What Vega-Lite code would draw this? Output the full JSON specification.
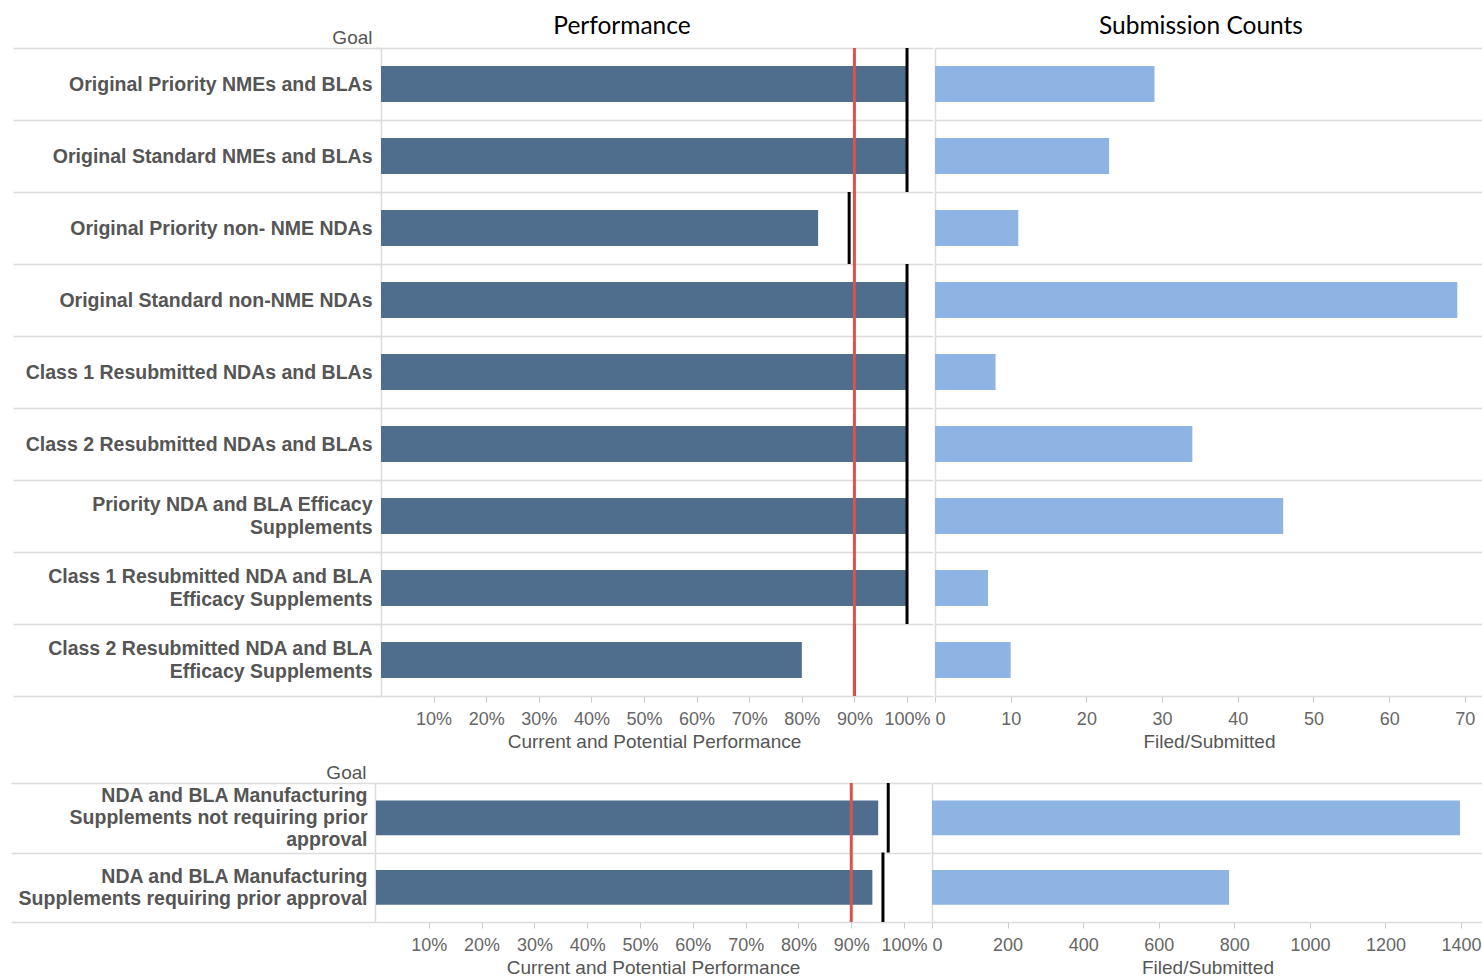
{
  "$schema": "https://vega.github.io/schema/vega-lite/v6.json",
  "padding": {"left": 10, "top": 13, "right": 0, "bottom": 0},
  "background": "white",
  "config": {
    "view": {"stroke": null},
    "font": "Liberation Sans",
    "axis": {"labelFont": "Liberation Sans", "titleFont": "Liberation Sans"}
  },
  "datasets": {
    "top": [
      {"goal": "Original Priority NMEs and BLAs", "perf": 1.0, "potential": 1.0, "count": 29},
      {"goal": "Original Standard NMEs and BLAs", "perf": 1.0, "potential": 1.0, "count": 23},
      {"goal": "Original Priority non- NME NDAs", "perf": 0.831, "potential": 0.89, "count": 11},
      {"goal": "Original Standard non-NME NDAs", "perf": 1.0, "potential": 1.0, "count": 69},
      {"goal": "Class 1 Resubmitted NDAs and BLAs", "perf": 1.0, "potential": 1.0, "count": 8},
      {"goal": "Class 2 Resubmitted NDAs and BLAs", "perf": 1.0, "potential": 1.0, "count": 34},
      {"goal": "Priority NDA and BLA Efficacy|Supplements", "perf": 1.0, "potential": 1.0, "count": 46},
      {"goal": "Class 1 Resubmitted NDA and BLA|Efficacy Supplements", "perf": 1.0, "potential": 1.0, "count": 7},
      {"goal": "Class 2 Resubmitted NDA and BLA|Efficacy Supplements", "perf": 0.8, "potential": 0.9, "count": 10}
    ],
    "bottom": [
      {"goal": "NDA and BLA Manufacturing|Supplements not requiring prior|approval", "perf": 0.951, "potential": 0.97, "count": 1397},
      {"goal": "NDA and BLA Manufacturing|Supplements requiring prior approval", "perf": 0.94, "potential": 0.96, "count": 786}
    ]
  },
  "columns": 1,
  "align": "none",
  "spacing": 12,
  "concat": [
    {
      "hconcat": [
        {
          "width": 558,
          "height": 648,
          "data": {"name": "top"},
          "title": {"text": "Performance", "font": "Lato", "fontSize": 24.5, "fontWeight": "normal", "color": "black", "anchor": "middle", "frame": "group", "dx": -32, "dy": 45, "baseline": "alphabetic", "offset": 15},
          "layer": [
            {
              "mark": {"type": "bar", "height": {"band": 0.5}, "color": "#4f6d8d"},
              "encoding": {
                "y": {"field": "goal", "type": "nominal", "sort": null, "scale": {"paddingInner": 0, "paddingOuter": 0},
                  "axis": {"title": "Goal", "offset": -6, "titleAngle": 0, "titleAlign": "right", "titleBaseline": "alphabetic", "titleX": -9, "titleY": -5, "titleFontSize": 19, "titleFontWeight": "normal", "titleColor": "#555",
                    "tickBand": "extent", "tickSize": 368, "tickColor": "#dcdcdc", "tickWidth": 1.5, "labelPadding": -359,
                    "domainColor": "#dcdcdc", "domainWidth": 1.5, "grid": true, "gridColor": "#dcdcdc", "gridWidth": 1.5,
                    "labelFontSize": 19.5, "labelFontWeight": "bold", "labelColor": "#555", "labelLineHeight": 11.5, "labelLimit": 0, "labelAlign": "right", "labelBaseline": "middle", "labelOffset": -11.5,
                    "labelExpr": "indexof(datum.label, '|') >= 0 ? split(replace(datum.label, '|', '|\u2800|'), '|') : split('\u2800|' + datum.label, '|')"}},
                "x": {"field": "perf", "type": "quantitative", "scale": {"domain": [-0.0114, 1.0494], "nice": false, "zero": false},
                  "axis": {"values": [0.1, 0.2, 0.3, 0.4, 0.5, 0.6, 0.7, 0.8, 0.9, 1.0], "format": ".0%", "title": "Current and Potential Performance", "grid": false,
                    "labelFontSize": 18, "labelColor": "#666", "labelPadding": 8, "tickColor": "#ccc", "tickSize": 6, "domainColor": "#dcdcdc",
                    "titleFontSize": 19, "titleFontWeight": "normal", "titleColor": "#555", "titlePadding": 4}}
              }
            },
            {
              "mark": {"type": "tick", "color": "black", "opacity": 1, "thickness": 3, "size": 72},
              "encoding": {
                "y": {"field": "goal", "type": "nominal", "sort": null},
                "x": {"field": "potential", "type": "quantitative"}
              }
            },
            {
              "data": {"values": [{}]},
              "mark": {"type": "rule", "color": "#d9534f", "strokeWidth": 3},
              "encoding": {"x": {"datum": 0.9}}
            }
          ]
        },
        {
          "width": 548,
          "height": 648,
          "data": {"name": "top"},
          "title": {"text": "Submission Counts", "font": "Lato", "fontSize": 24.5, "fontWeight": "normal", "color": "black", "anchor": "middle", "frame": "group", "dx": -8, "dy": 25, "baseline": "alphabetic", "offset": 15},
          "mark": {"type": "bar", "height": {"band": 0.5}, "color": "#8db4e2"},
          "encoding": {
            "y": {"field": "goal", "type": "nominal", "sort": null, "scale": {"paddingInner": 0, "paddingOuter": 0},
              "axis": {"title": null, "labels": false, "ticks": false, "tickBand": "extent", "grid": true, "gridColor": "#dcdcdc", "gridWidth": 1.5, "domainColor": "#dcdcdc", "domainWidth": 1.5}},
            "x": {"field": "count", "type": "quantitative", "scale": {"domain": [0, 72.4], "nice": false},
              "axis": {"values": [0, 10, 20, 30, 40, 50, 60, 70], "title": "Filed/Submitted", "grid": false,
                "labelFontSize": 18, "labelColor": "#666", "labelPadding": 8, "tickColor": "#ccc", "tickSize": 6, "domainColor": "#dcdcdc",
                "titleFontSize": 19, "titleFontWeight": "normal", "titleColor": "#555", "titlePadding": 4}}
          }
        }
      ],
      "spacing": 2,
      "bounds": "flush"
    },
    {
      "hconcat": [
        {
          "width": 556,
          "height": 139,
          "data": {"name": "bottom"},
          "layer": [
            {
              "mark": {"type": "bar", "height": {"band": 0.5}, "color": "#4f6d8d"},
              "encoding": {
                "y": {"field": "goal", "type": "nominal", "sort": null, "scale": {"paddingInner": 0, "paddingOuter": 0},
                  "axis": {"title": "Goal", "titleAngle": 0, "titleAlign": "right", "titleBaseline": "alphabetic", "titleX": -9, "titleY": -5, "titleFontSize": 19, "titleFontWeight": "normal", "titleColor": "#555",
                    "tickBand": "extent", "tickSize": 364, "tickColor": "#dcdcdc", "tickWidth": 1.5, "labelPadding": -356,
                    "domainColor": "#dcdcdc", "domainWidth": 1.5, "grid": true, "gridColor": "#dcdcdc", "gridWidth": 1.5,
                    "labelFontSize": 19.5, "labelFontWeight": "bold", "labelColor": "#555", "labelLineHeight": 11, "labelLimit": 0, "labelAlign": "right", "labelBaseline": "middle", "labelOffset": -22,
                    "labelExpr": "indexof(datum.label, 'not requiring') >= 0 ? split(replace(replace(datum.label, '|', '|\u2800|'), 'prior|', 'prior|\u2800|'), '|') : split('\u2800|' + replace(datum.label, '|', '|\u2800|'), '|')"}},
                "x": {"field": "perf", "type": "quantitative", "scale": {"domain": [-0.0019, 1.051], "nice": false, "zero": false},
                  "axis": {"values": [0.1, 0.2, 0.3, 0.4, 0.5, 0.6, 0.7, 0.8, 0.9, 1.0], "format": ".0%", "title": "Current and Potential Performance", "grid": false,
                    "labelFontSize": 18, "labelColor": "#666", "labelPadding": 8, "tickColor": "#ccc", "tickSize": 6, "domainColor": "#dcdcdc",
                    "titleFontSize": 19, "titleFontWeight": "normal", "titleColor": "#555", "titlePadding": 4}}
              }
            },
            {
              "mark": {"type": "tick", "color": "black", "opacity": 1, "thickness": 3, "size": 69.5},
              "encoding": {
                "y": {"field": "goal", "type": "nominal", "sort": null},
                "x": {"field": "potential", "type": "quantitative"}
              }
            },
            {
              "data": {"values": [{}]},
              "mark": {"type": "rule", "color": "#d9534f", "strokeWidth": 3},
              "encoding": {"x": {"datum": 0.9}}
            }
          ]
        },
        {
          "width": 551,
          "height": 139,
          "data": {"name": "bottom"},
          "mark": {"type": "bar", "height": {"band": 0.5}, "color": "#8db4e2"},
          "encoding": {
            "y": {"field": "goal", "type": "nominal", "sort": null, "scale": {"paddingInner": 0, "paddingOuter": 0},
              "axis": {"title": null, "labels": false, "ticks": false, "tickBand": "extent", "grid": true, "gridColor": "#dcdcdc", "gridWidth": 1.5, "domainColor": "#dcdcdc", "domainWidth": 1.5}},
            "x": {"field": "count", "type": "quantitative", "scale": {"domain": [0, 1458], "nice": false},
              "axis": {"values": [0, 200, 400, 600, 800, 1000, 1200, 1400], "format": "d", "title": "Filed/Submitted", "grid": false,
                "labelFontSize": 18, "labelColor": "#666", "labelPadding": 8, "tickColor": "#ccc", "tickSize": 6, "domainColor": "#dcdcdc",
                "titleFontSize": 19, "titleFontWeight": "normal", "titleColor": "#555", "titlePadding": 4}}
          }
        }
      ],
      "spacing": 1,
      "bounds": "flush"
    }
  ]
}
